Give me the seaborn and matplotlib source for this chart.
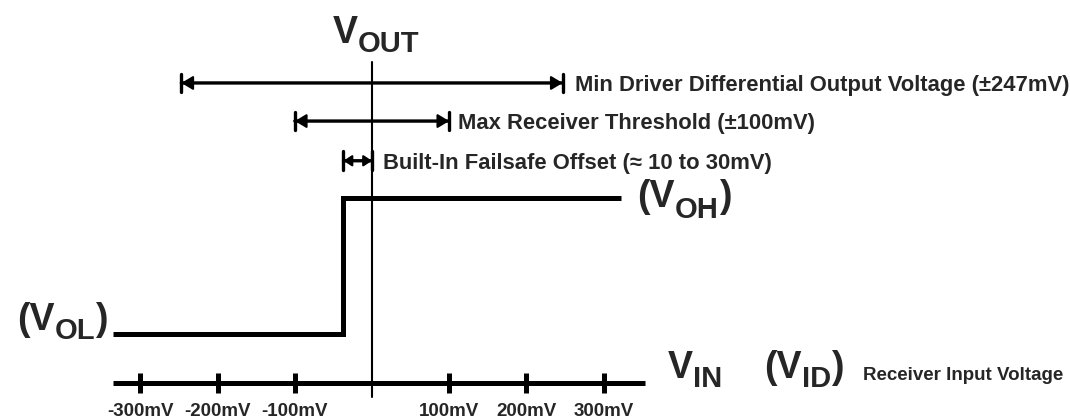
import matplotlib
matplotlib.use("Agg")
import matplotlib.pyplot as plt
import seaborn as sns
import pandas as pd

# ---- data -------------------------------------------------------------
# receiver input sweep (mV) and output state (0 = VOL, 1 = VOH)
vid_mv = [-336, -37, 323]
vout_state = [0, 1, 1]

# x-axis ticks
tick_mv = [-300, -200, -100, 100, 200, 300]
tick_labels = ["-300mV", "-200mV", "-100mV", "100mV", "200mV", "300mV"]

# dimension ranges (mV)
min_driver_vod = 247
max_rx_threshold = 100
failsafe_offset = (-37, 0)
vin_axis_span = (-336, 353)

# ---- style ------------------------------------------------------------
sns.set_theme(style="white")
FONT = ["Liberation Sans", "DejaVu Sans"]
plt.rcParams["font.family"] = FONT
plt.rcParams["font.weight"] = "bold"

fig = plt.figure(figsize=(10.7, 4.2), dpi=100)
ax = fig.add_axes([0, 0, 1, 1])
ax.set_xlim(-481.9, 904.1)
ax.set_ylim(-0.632, 2.456)
ax.axis("off")

INK = "black"
axis_y = -0.36          # level of the V_IN axis
vaxis_top, vaxis_bot = 2.0, -0.463
row_driver, row_thresh, row_failsafe = 1.846, 1.566, 1.274

# ---- transfer characteristic ------------------------------------------
df = pd.DataFrame({"vid": vid_mv, "vout": vout_state})
sns.lineplot(data=df, x="vid", y="vout", ax=ax, color=INK, lw=3.6,
             drawstyle="steps-post", estimator=None, sort=False,
             solid_joinstyle="miter", solid_capstyle="butt")

# ---- axes -------------------------------------------------------------
ax.plot(list(vin_axis_span), [axis_y, axis_y], color=INK, lw=3.6,
        solid_capstyle="butt")
ax.vlines(tick_mv, axis_y - 0.07, axis_y + 0.07, color=INK, lw=3.6)
ax.plot([0, 0], [vaxis_bot, vaxis_top], color=INK, lw=1.5)

for mv, lab in zip(tick_mv, tick_labels):
    ax.annotate(lab, xy=(mv, axis_y), xytext=(0, -23.8), textcoords="offset points",
                ha="center", va="baseline", fontsize=13.5, fontweight="bold",
                fontfamily=FONT)


# ---- dimension arrows -------------------------------------------------
def dim_arrow(x0, x1, y, scale, head_len, head_w, bar_w):
    ax.annotate("", xy=(x1, y), xytext=(x0, y),
                arrowprops=dict(arrowstyle=f"<|-|>,head_length={head_len},head_width={head_w}",
                                color=INK, lw=1.5, shrinkA=0, shrinkB=0,
                                mutation_scale=scale))
    ax.annotate("", xy=(x1, y), xytext=(x0, y),
                arrowprops=dict(arrowstyle=f"|-|,widthA={bar_w},widthB={bar_w}",
                                color=INK, lw=2.4, shrinkA=0, shrinkB=0,
                                mutation_scale=scale))


def dim_text(x, y, text, dx):
    ax.annotate(text, xy=(x, y), xytext=(dx, -6.0), textcoords="offset points",
                ha="left", va="baseline", fontsize=15.8, fontweight="bold",
                fontfamily=FONT)


dim_arrow(-min_driver_vod, min_driver_vod, row_driver, 14, 0.5, 0.3, 0.46)
dim_text(min_driver_vod, row_driver, "Min Driver Differential Output Voltage (±247mV)", 8.5)

dim_arrow(-max_rx_threshold, max_rx_threshold, row_thresh, 14, 0.5, 0.3, 0.46)
dim_text(max_rx_threshold, row_thresh, "Max Receiver Threshold (±100mV)", 6.5)

dim_arrow(failsafe_offset[0], failsafe_offset[1], row_failsafe, 10, 0.5, 0.33, 0.68)
dim_text(failsafe_offset[1], row_failsafe, "Built-In Failsafe Offset (≈ 10 to 30mV)", 8)


# ---- symbols with subscripts ------------------------------------------
def chain_label(anchor, offset, pieces, ha="left"):
    """pieces: (text, size, dx_pt, dy_pt) laid out side by side."""
    order = pieces if ha == "left" else pieces[::-1]
    prev = None
    for text, size, dx, dy in order:
        if prev is None:
            xy, coords = anchor, "data"
            xt = offset[0] + dx
        else:
            xy = (1 if ha == "left" else 0, anchor[1])
            coords = (prev, "data")
            xt = dx
        prev = ax.annotate(text, xy=xy, xycoords=coords,
                           xytext=(xt, offset[1] + dy), textcoords="offset points",
                           ha=ha, va="baseline", fontsize=size, fontweight="bold",
                           fontfamily=FONT)
    return prev


BIG, SUB = 27, 21

chain_label((0, vaxis_top), (-28, 13.7),
            [("V", BIG, 0, 0), ("OUT", SUB, 0, -6.5)])

chain_label((vid_mv[-1], 1), (11.5, -6.5),
            [("(V", BIG, 0, 0), ("OH", SUB, 0, -8.0), (")", BIG, 0, 0)])

chain_label((vid_mv[0], 0), (-3.6, 3.0),
            [("(V", BIG, 0, 0), ("OL", SUB, 0, -6.5), (")", BIG, 0, 0)],
            ha="right")

chain_label((vin_axis_span[1], axis_y), (17, 3.6),
            [("V", BIG, 0, 0), ("IN", SUB, 0, -6.5),
             ("(V", BIG, 30, 0), ("ID", SUB, 0, -6.5), (")", BIG, 0, 0),
             ("Receiver Input Voltage", 13.5, 14, -1.4)])

fig.savefig("out.png", dpi=100, facecolor="white")
